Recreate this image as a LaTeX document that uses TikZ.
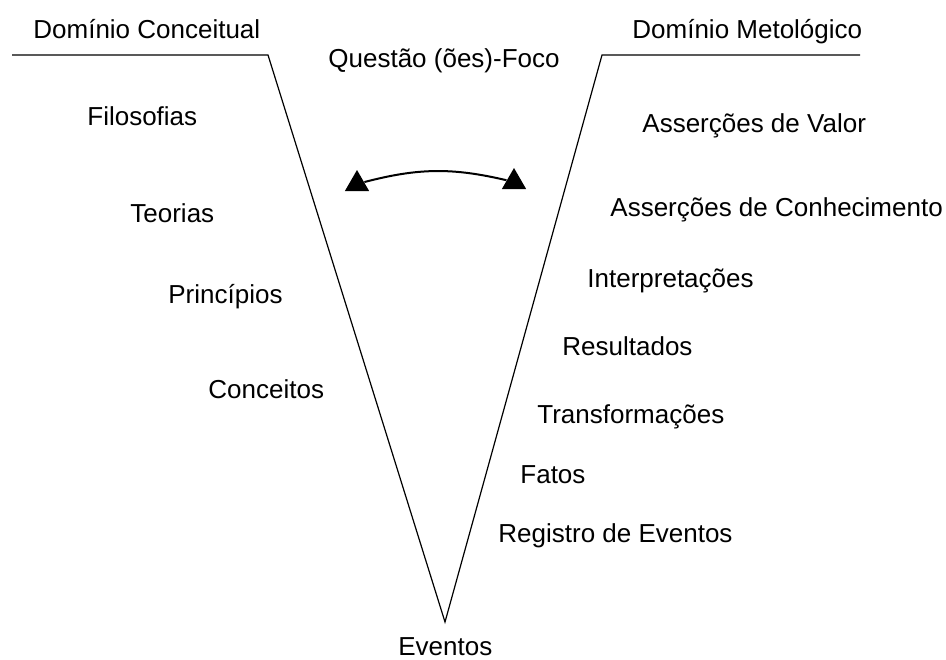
\documentclass[tikz,border=0pt]{standalone}
\usepackage{fontspec}
\setmainfont{Liberation Sans}
\usetikzlibrary{shapes.geometric}
\tikzset{
  term/.style={anchor=base west, inner sep=0pt, font=\fontsize{13}{15}\selectfont},
  tiphead/.style={regular polygon, regular polygon sides=3, fill=black,
    inner sep=0pt, minimum size=14pt}
}
\begin{document}
\begin{tikzpicture}[x=0.5pt, y=-0.5pt]
      \useasboundingbox (0,0) rectangle (946,659);
      % the V
      \coordinate (lstart) at (12,55);
      \coordinate (ltop) at (268,55);
      \coordinate (bottom) at (445,622);
      \coordinate (rtop) at (602,55);
      \coordinate (rend) at (860,55);
      \draw[line width=0.6pt] (lstart) -- (ltop) -- (bottom) -- (rtop) -- (rend);
      % headings
      \draw
        (33,38) node[term] (dc){Domínio Conceitual}
        (632,38) node[term] (dm){Domínio Metológico}
        (328,67) node[term] (qf){Questão (ões)-Foco}
        (398,655) node[term] (ev){Eventos};
      % conceptual side
      \draw
        (87,125) node[term] (fil){Filosofias}
        (130,222) node[term] (teo){Teorias}
        (168,303) node[term] (pri){Princípios}
        (208,398) node[term] (con){Conceitos};
      % methodological side
      \draw
        (642,132) node[term] (val){Asserções de Valor}
        (610,216) node[term] (cnh){Asserções de Conhecimento}
        (587,287) node[term] (itp){Interpretações}
        (562,355) node[term] (res){Resultados}
        (537,423) node[term] (trf){Transformações}
        (520,483) node[term] (fat){Fatos}
        (498,542) node[term] (reg){Registro de Eventos};
      % interplay
      \node[tiphead] (lhead) at (357,184) {};
      \node[tiphead] (rhead) at (514,182) {};
      \draw[line width=1pt] (lhead) to[bend left=14] (rhead);
    \end{tikzpicture}
\end{document}
